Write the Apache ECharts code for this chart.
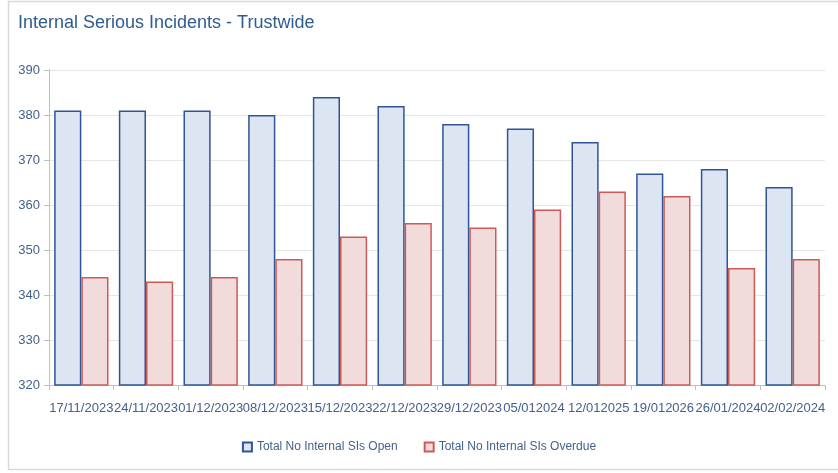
<!DOCTYPE html>
<html>
<head>
<meta charset="utf-8">
<script src="https://cdn.jsdelivr.net/npm/echarts@6/dist/echarts.min.js"></script>
<style>
  html, body { margin: 0; padding: 0; background: #fff; }
  #chart { width: 838px; height: 473px; }
</style>
</head>
<body>
<div id="chart"></div>
<script>
// Weekly snapshot dates
const categories = ['17/11/2023', '24/11/2023', '01/12/2023', '08/12/2023', '15/12/2023', '22/12/2023',
  '29/12/2023', '05/012024', '12/012025', '19/012026', '26/01/2024', '02/02/2024'];
// Open serious incidents per week
const openValues = [381, 381, 381, 380, 384, 382, 378, 377, 374, 367, 368, 364];
// Overdue serious incidents per week
const overdueValues = [344, 343, 344, 348, 353, 356, 355, 359, 363, 362, 346, 348];

const textColor = '#44618C';
const font = 'Liberation Sans';

const chart = echarts.init(document.getElementById('chart'));
chart.setOption({
  animation: false,
  backgroundColor: '#fff',
  graphic: [{
    type: 'rect',
    shape: { x: 8.5, y: 1.5, width: 840, height: 468 },
    style: { fill: 'none', stroke: '#D9D9D9', lineWidth: 1.5 },
    silent: true, z: -1
  }],
  title: {
    text: 'Internal Serious Incidents - Trustwide',
    left: 13, top: 9,
    textStyle: { color: '#2E5C91', fontFamily: font, fontSize: 18, fontWeight: 'normal' }
  },
  legend: {
    top: 436, left: 'center',
    icon: 'rect', itemWidth: 9, itemHeight: 9, itemGap: 26, itemStyle: { borderWidth: 2 },
    textStyle: { color: textColor, fontFamily: font, fontSize: 12 },
    data: ['Total No Internal SIs Open', 'Total No Internal SIs Overdue']
  },
  grid: { left: 49, right: 13, top: 70, bottom: 88 },
  xAxis: {
    type: 'category',
    data: categories,
    axisLine: { lineStyle: { color: '#BFBFBF' } },
    axisTick: { show: true, length: 5, lineStyle: { color: '#BFBFBF' } },
    axisLabel: { interval: 0, color: textColor, fontFamily: font, fontSize: 13, margin: 17 }
  },
  yAxis: {
    type: 'value',
    min: 320, max: 390, interval: 10,
    axisLine: { show: true, lineStyle: { color: '#BFBFBF' } },
    axisTick: { show: true, length: 5, lineStyle: { color: '#BFBFBF' } },
    axisLabel: { color: textColor, fontFamily: font, fontSize: 13, margin: 9 },
    splitLine: { lineStyle: { color: '#E6E6E6' } }
  },
  series: [
    {
      name: 'Total No Internal SIs Open',
      type: 'bar',
      data: openValues,
      barGap: '0%',
      barCategoryGap: '16%',
      itemStyle: { color: '#DCE6F2', borderColor: '#2F5597', borderWidth: 1.5 }
    },
    {
      name: 'Total No Internal SIs Overdue',
      type: 'bar',
      data: overdueValues,
      itemStyle: { color: '#F2DCDB', borderColor: '#CC5B58', borderWidth: 1.5 }
    }
  ]
});
</script>
</body>
</html>
